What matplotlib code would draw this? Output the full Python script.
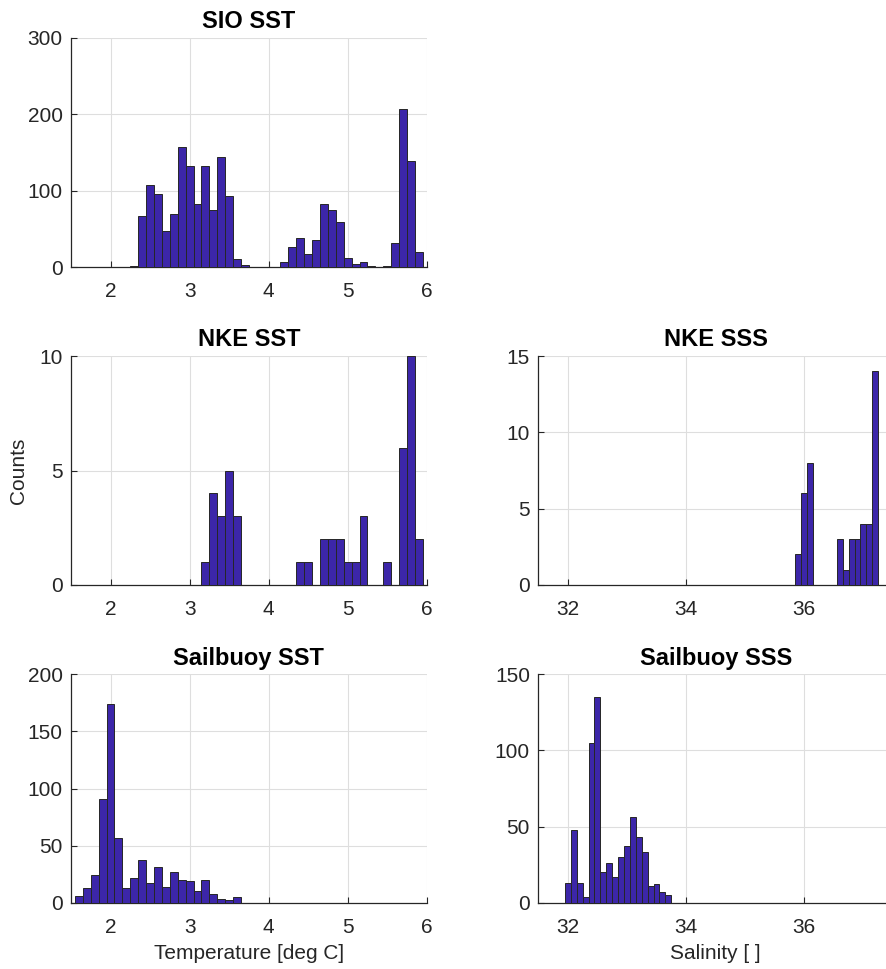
import numpy as np
import matplotlib
matplotlib.use("Agg")
import matplotlib.pyplot as plt

# ---- data (bin counts, bin width 0.1) ----
temp_first_edge = 1.55
sal_first_edge = 31.95
bin_width = 0.1

sio_sst = [0, 0, 0, 0, 0, 0, 0, 1, 67, 107, 96, 47, 69, 157, 132, 82, 132, 74, 144, 93,
           10, 3, 0, 0, 0, 0, 7, 26, 38, 17, 35, 83, 74, 59, 12, 4, 6, 1, 0, 1,
           31, 207, 139, 19]
nke_sst = [0, 0, 0, 0, 0, 0, 0, 0, 0, 0, 0, 0, 0, 0, 0, 0, 1, 4, 3, 5,
           3, 0, 0, 0, 0, 0, 0, 0, 1, 1, 0, 2, 2, 2, 1, 1, 3, 0, 0, 1,
           0, 6, 10, 2]
sail_sst = [6, 13, 24, 91, 174, 57, 13, 22, 37, 17, 31, 14, 27, 20, 19, 10, 20, 8, 3, 2,
            5, 0, 0, 0, 0, 0, 0, 0, 0, 0, 0, 0, 0, 0, 0, 0, 0, 0, 0, 0,
            0, 0, 0, 0]
nke_sss = [0] * 39 + [2, 6, 8, 0, 0, 0, 0, 3, 1, 3, 3, 4, 4, 14]
sail_sss = [13, 48, 13, 4, 105, 135, 20, 26, 17, 30, 37, 56, 43, 33, 11, 12, 7, 5] + [0] * 35

titles = ["SIO SST", "NKE SST", "NKE SSS", "Sailbuoy SST", "Sailbuoy SSS"]
temp_ticks = [2, 3, 4, 5, 6]
sal_ticks = [32, 34, 36]

# ---- style ----
plt.rcParams['font.family'] = ['Liberation Sans', 'DejaVu Sans']
FACE = '#3C26A9'
EDGE = '#262626'
TXT = '#262626'
GRID = '#DEDEDE'

W, H = 887, 969
fig = plt.figure(figsize=(W / 100, H / 100), dpi=100)


def make_ax(left, top, right, bottom):
    return fig.add_axes([left / W, 1 - bottom / H, (right - left) / W, (bottom - top) / H])


def draw(ax, counts, first_edge, xlim, xticks, ylim, yticks, title):
    counts = np.asarray(counts, dtype=float)
    lefts = first_edge + bin_width * np.arange(len(counts))
    ax.bar(lefts, counts, width=bin_width, align='edge', color=FACE,
           edgecolor=EDGE, linewidth=0.7, zorder=3)
    ax.set_xlim(*xlim)
    ax.set_ylim(*ylim)
    ax.set_xticks(xticks)
    ax.set_yticks(yticks)
    ax.grid(True, color=GRID, linewidth=0.8, zorder=0)
    ax.set_axisbelow(True)
    for s in ['top', 'right']:
        ax.spines[s].set_visible(False)
    for s in ['left', 'bottom']:
        ax.spines[s].set_color(TXT)
        ax.spines[s].set_linewidth(0.9)
    ax.tick_params(direction='in', length=4, width=0.8, colors=TXT,
                   labelsize=15, pad=6)
    ax.tick_params(axis='x', pad=11)
    ax.set_title(title, fontsize=17, fontweight='bold', color='black', pad=7)


L1, R1 = 71, 426.7
L2, R2 = 538.3, 893
rows = [(37.7, 267), (356, 585), (674.3, 902.7)]

ax1 = make_ax(L1, rows[0][0], R1, rows[0][1])
draw(ax1, sio_sst, temp_first_edge, (1.5, 6), temp_ticks, (0, 300), [0, 100, 200, 300], titles[0])

ax2 = make_ax(L1, rows[1][0], R1, rows[1][1])
draw(ax2, nke_sst, temp_first_edge, (1.5, 6), temp_ticks, (0, 10), [0, 5, 10], titles[1])
ax2.set_ylabel("Counts", fontsize=15, color=TXT, labelpad=8)

ax3 = make_ax(L2, rows[1][0], R2, rows[1][1])
draw(ax3, nke_sss, sal_first_edge, (31.5, 37.5), sal_ticks, (0, 15), [0, 5, 10, 15], titles[2])

ax4 = make_ax(L1, rows[2][0], R1, rows[2][1])
draw(ax4, sail_sst, temp_first_edge, (1.5, 6), temp_ticks, (0, 200), [0, 50, 100, 150, 200], titles[3])
ax4.set_xlabel("Temperature [deg C]", fontsize=15, color=TXT, labelpad=5)

ax5 = make_ax(L2, rows[2][0], R2, rows[2][1])
draw(ax5, sail_sss, sal_first_edge, (31.5, 37.5), sal_ticks, (0, 150), [0, 50, 100, 150], titles[4])
ax5.set_xlabel("Salinity [ ]", fontsize=15, color=TXT, labelpad=5)

fig.savefig("out.png", dpi=100, facecolor='white')
